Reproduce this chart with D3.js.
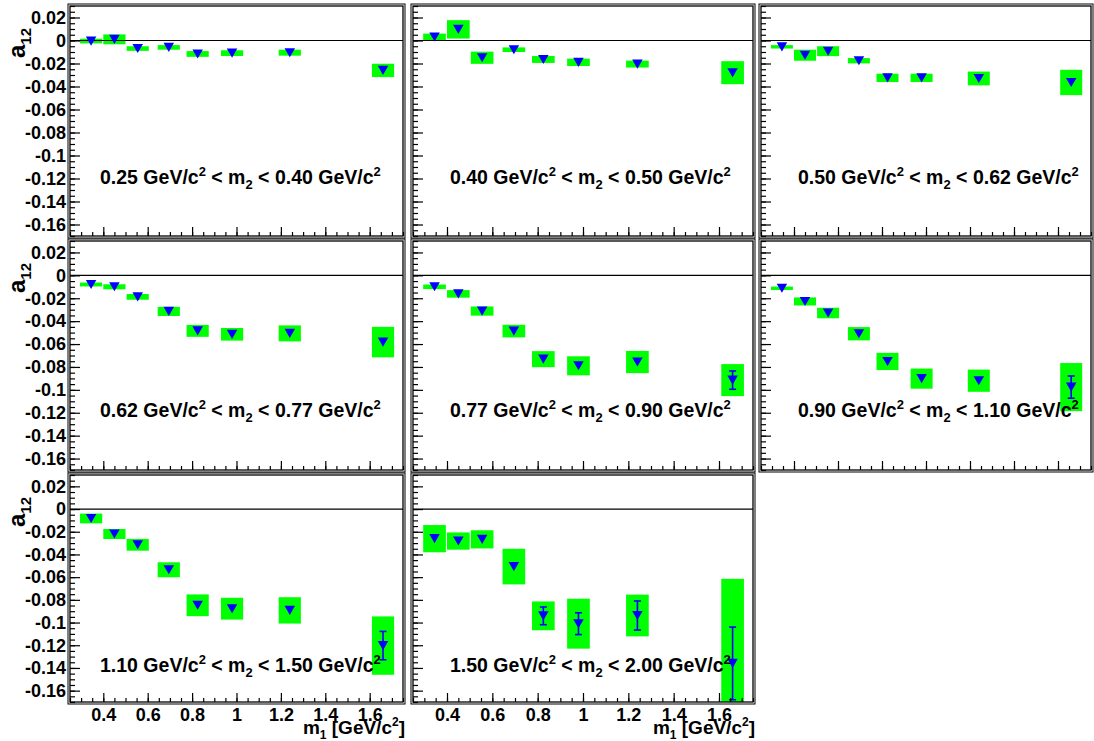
<!DOCTYPE html>
<html>
<head>
<meta charset="utf-8">
<script src="https://cdn.jsdelivr.net/npm/d3@7"></script>
<style>
  body { margin: 0; background: #fff; }
  svg { display: block; font-family: "Liberation Sans", Arial, Helvetica, sans-serif; font-weight: bold; }
</style>
</head>
<body>
<div id="chart"></div>
<script>
// m2 bins, one panel each
var binLo = ['0.25', '0.40', '0.50', '0.62', '0.77', '0.90', '1.10', '1.50'];
var binHi = ['0.40', '0.50', '0.62', '0.77', '0.90', '1.10', '1.50', '2.00'];

// mean m1 of each m1 bin
var m1 = [0.345, 0.45, 0.555, 0.695, 0.825, 0.98, 1.24, 1.66];

// a12 per panel
var a12 = [
  [-0.0005, 0.001, -0.007, -0.006, -0.0117, -0.011, -0.0106, -0.026],
  [0.003, 0.0097, -0.015, -0.008, -0.0165, -0.019, -0.0205, -0.028],
  [-0.0055, -0.0128, -0.0093, -0.0176, -0.0325, -0.0325, -0.033, -0.0365],
  [-0.008, -0.010, -0.0188, -0.0315, -0.0485, -0.0515, -0.0507, -0.0583],
  [-0.010, -0.0162, -0.0312, -0.0487, -0.0732, -0.079, -0.0757, -0.0915],
  [-0.0113, -0.0228, -0.0329, -0.051, -0.0752, -0.0902, -0.092, -0.0976],
  [-0.0083, -0.022, -0.0315, -0.0535, -0.0848, -0.0878, -0.0893, -0.1203],
  [-0.0261, -0.0282, -0.0267, -0.0507, -0.0941, -0.101, -0.0938, -0.136]
];

// systematic errors (green boxes)
var sysErr = [
  [0.002, 0.0043, 0.002, 0.002, 0.0025, 0.0025, 0.0026, 0.0058],
  [0.003, 0.008, 0.0053, 0.002, 0.003, 0.0032, 0.003, 0.010],
  [0.0015, 0.0048, 0.0043, 0.0023, 0.0036, 0.0036, 0.006, 0.011],
  [0.0017, 0.0022, 0.0025, 0.004, 0.0052, 0.0055, 0.007, 0.0133],
  [0.002, 0.0033, 0.004, 0.0055, 0.007, 0.0083, 0.0097, 0.014],
  [0.0015, 0.0035, 0.0046, 0.0058, 0.0075, 0.0088, 0.0097, 0.021],
  [0.0043, 0.0044, 0.0052, 0.0066, 0.0096, 0.0096, 0.0116, 0.0257],
  [0.012, 0.0076, 0.008, 0.0157, 0.0127, 0.022, 0.0184, 0.0745]
];

// statistical errors (bars)
var statErr = [
  [0.001, 0.0015, 0.001, 0.001, 0.0015, 0.0015, 0.002, 0.003],
  [0.0015, 0.002, 0.002, 0.0015, 0.002, 0.002, 0.0025, 0.004],
  [0.0015, 0.002, 0.002, 0.002, 0.0025, 0.0025, 0.003, 0.004],
  [0.0015, 0.002, 0.002, 0.0025, 0.003, 0.003, 0.0035, 0.0045],
  [0.002, 0.002, 0.0025, 0.003, 0.0035, 0.004, 0.0045, 0.008],
  [0.002, 0.0025, 0.003, 0.0035, 0.004, 0.0045, 0.0045, 0.0097],
  [0.0025, 0.003, 0.0035, 0.004, 0.0045, 0.0045, 0.0045, 0.0125],
  [0.004, 0.004, 0.004, 0.0045, 0.0078, 0.0096, 0.0128, 0.032]
];

var width = 1094, height = 741;
var green = '#00ff00', blue = '#0000ff';

// pad frames
var colLeft = [70, 413, 761], colWidth = [333, 340, 330];
var rowTop = [6, 241, 475], rowHeight = [230, 229, 227];
var labelDx = [30, 37, 37], labelDy = [178, 176, 197];

var svg = d3.select('#chart').append('svg')
  .attr('width', width)
  .attr('height', height);

var defs = svg.append('defs');
var tri = d3.symbol().type(d3.symbolTriangle).size(48);
var triOff = Math.sqrt(48 / (3 * Math.sqrt(3))) / 2;

binLo.forEach(function(lo, i) {
  var col = i % 3, row = Math.floor(i / 3);
  var x0 = colLeft[col], w = colWidth[col];
  var y0 = rowTop[row], h = rowHeight[row];
  var bottomRow = row === 2;

  var x = d3.scaleLinear().domain([0.25, 1.75]).range([0, w]);
  var y = d3.scaleLinear().domain([-0.17, 0.03]).range([h, 0]);

  var g = svg.append('g').attr('transform', 'translate(' + x0 + ',' + y0 + ')');

  defs.append('clipPath').attr('id', 'clip' + i)
    .append('rect').attr('width', w).attr('height', h);

  // pad border
  g.append('rect')
    .attr('x', -2).attr('y', -2).attr('width', w + 4).attr('height', h + 4)
    .attr('fill', 'none').attr('stroke', '#000').attr('stroke-width', 1);

  var plot = g.append('g').attr('clip-path', 'url(#clip' + i + ')');

  var pts = m1.map(function(m, j) {
    return {x: m, v: a12[i][j], sys: sysErr[i][j], stat: statErr[i][j]};
  });

  // systematic boxes
  plot.selectAll('.sys').data(pts).enter().append('rect')
    .attr('x', function(d) { return x(d.x - 0.05); })
    .attr('width', function(d) { return x(d.x + 0.05) - x(d.x - 0.05); })
    .attr('y', function(d) { return y(d.v + d.sys); })
    .attr('height', function(d) { return y(d.v - d.sys) - y(d.v + d.sys); })
    .attr('fill', green);

  // zero line
  plot.append('line')
    .attr('x1', 0).attr('x2', w)
    .attr('y1', y(0)).attr('y2', y(0))
    .attr('stroke', '#000').attr('stroke-width', 1.2);

  // stat error bars, only where they stick out of the marker
  var bars = plot.selectAll('.stat').data(pts.filter(function(d) {
    return y(d.v - d.stat) - y(d.v) > 6;
  })).enter().append('g');
  bars.append('line')
    .attr('x1', function(d) { return x(d.x); }).attr('x2', function(d) { return x(d.x); })
    .attr('y1', function(d) { return y(d.v + d.stat); })
    .attr('y2', function(d) { return y(d.v - d.stat); })
    .attr('stroke', blue).attr('stroke-width', 1.6);
  [1, -1].forEach(function(s) {
    bars.append('line')
      .attr('x1', function(d) { return x(d.x) - 3.5; })
      .attr('x2', function(d) { return x(d.x) + 3.5; })
      .attr('y1', function(d) { return y(d.v + s * d.stat); })
      .attr('y2', function(d) { return y(d.v + s * d.stat); })
      .attr('stroke', blue).attr('stroke-width', 1.6);
  });

  // markers
  plot.selectAll('.mk').data(pts).enter().append('path')
    .attr('d', tri)
    .attr('transform', function(d) {
      return 'translate(' + x(d.x) + ',' + (y(d.v) - triOff) + ') rotate(180)';
    })
    .attr('fill', blue);

  // axes (ticks inward)
  var yMajor = d3.axisLeft(y).ticks(10).tickSize(-10).tickSizeOuter(0).tickPadding(4)
    .tickFormat(col === 0 ? function(d) { return String(+d.toFixed(2)); } : '');
  var yMinor = d3.axisLeft(y).ticks(40).tickSize(-5).tickSizeOuter(0).tickFormat('');
  var xMajor = d3.axisBottom(x).ticks(7).tickSize(-9).tickSizeOuter(0).tickPadding(6)
    .tickFormat(bottomRow ? function(d) { return String(+d.toFixed(1)); } : '');
  var xMinor = d3.axisBottom(x).ticks(30).tickSize(-4).tickSizeOuter(0).tickFormat('');

  [yMinor, yMajor].forEach(function(ax) {
    g.append('g').call(ax);
  });
  [xMinor, xMajor].forEach(function(ax) {
    g.append('g').attr('transform', 'translate(0,' + h + ')').call(ax);
  });
  g.selectAll('.domain').remove();
  g.selectAll('.tick line').attr('stroke', '#000').attr('stroke-width', 1.2);
  g.selectAll('.tick text')
    .attr('fill', '#000')
    .style('font-size', '18px')
    .style('font-family', '"Liberation Sans", Arial, sans-serif')
    .style('font-weight', 'bold');

  // frame
  g.append('rect')
    .attr('width', w).attr('height', h)
    .attr('fill', 'none').attr('stroke', '#000').attr('stroke-width', 1.3);

  // m2 bin label
  var t = g.append('text')
    .attr('x', labelDx[col]).attr('y', labelDy[row])
    .style('font-size', '19.5px').attr('fill', '#000');
  t.append('tspan').text(lo + ' GeV/c');
  t.append('tspan').attr('dy', -8).style('font-size', '13px').text('2');
  t.append('tspan').attr('dy', 8).text(' < m');
  t.append('tspan').attr('dy', 5).style('font-size', '13px').text('2');
  t.append('tspan').attr('dy', -5).text(' < ' + binHi[i] + ' GeV/c');
  t.append('tspan').attr('dy', -8).style('font-size', '13px').text('2');

  // y title, rotated, ending near the top of the axis
  if (col === 0) {
    var yt = g.append('text')
      .attr('transform', 'translate(-45,22) rotate(-90)')
      .attr('text-anchor', 'end')
      .style('font-size', '24px').attr('fill', '#000');
    yt.append('tspan').text('a');
    yt.append('tspan').attr('dy', 6).style('font-size', '15px').text('12');
  }

  // x title
  if (bottomRow) {
    var xt = g.append('text')
      .attr('x', w + 2).attr('y', h + 32)
      .attr('text-anchor', 'end')
      .style('font-size', '19px').attr('fill', '#000');
    xt.append('tspan').text('m');
    xt.append('tspan').attr('dy', 5).style('font-size', '12px').text('1');
    xt.append('tspan').attr('dy', -5).text(' [GeV/c');
    xt.append('tspan').attr('dy', -8).style('font-size', '12px').text('2');
    xt.append('tspan').attr('dy', 8).text(']');
  }
});
</script>
</body>
</html>
